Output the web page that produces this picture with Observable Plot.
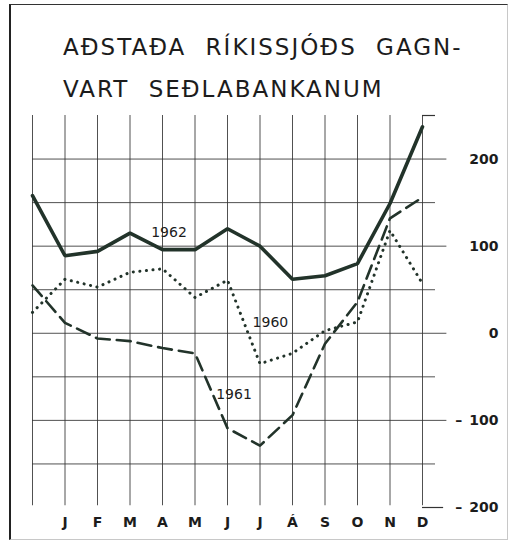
<!DOCTYPE html>
<html><head><meta charset="utf-8">
<script src="https://cdn.jsdelivr.net/npm/d3@7"></script>
<script src="https://cdn.jsdelivr.net/npm/@observablehq/plot@0.6"></script>
<style>
html,body{margin:0;padding:0;background:#fff;}
#wrap{position:relative;width:509px;height:547px;overflow:hidden;background:#fff;}
#frame{position:absolute;left:9px;top:4px;width:496px;height:534px;border-left:2px solid #222;border-top:1.5px solid #333;border-right:1px solid #c8c8c8;border-bottom:1px solid #c8c8c8;}
#title{position:absolute;left:63px;top:26px;font-family:"DejaVu Sans",sans-serif;font-size:23px;letter-spacing:2px;word-spacing:10px;line-height:42px;color:#1c1c1c;white-space:nowrap;}
#chart{position:absolute;left:0;top:110px;}
</style></head><body>
<div id="wrap"><div id="frame"></div><div id="title">AÐSTAÐA RÍKISSJÓÐS GAGN-<br>VART SEÐLABANKANUM</div><div id="chart"></div></div>
<script>
// month positions: 0 = end of previous year, 1..12 = J..D
const positions = [0,1,2,3,4,5,6,7,8,9,10,11,12];
const monthLabels = ["J","F","M","A","M","J","J","Á","S","O","N","D"];
const s1962 = [158, 89, 94, 115, 96, 96, 120, 100, 62, 66, 80, 149, 237];
const s1960 = [24, 62, 53, 70, 74, 41, 61, -35, -23, 3, 13, 118, 57];
const s1961 = [55, 12, -6, -9, -17, -23, -109, -129, -94, -12, 36, 132, 156];
const yTicks = [200, 100, 0, -100, -200];
const yTickLabels = ["200", "100", "0", "\u2013\u2002100", "\u2013\u2002200"];
const minorTicks = [150, 50, -50, -150];
const seriesLabels = [
  {text: "1962", x: 4.2, y: 116},
  {text: "1960", x: 7.32, y: 12},
  {text: "1961", x: 6.2, y: -70}
];

const ink = "#22332a";
const grid = "#333";

const chart = Plot.plot({
  width: 509,
  height: 437,
  marginTop: 0, marginRight: 0, marginBottom: 0, marginLeft: 0,
  style: {fontFamily: "DejaVu Sans, sans-serif", background: "transparent", overflow: "visible", color: "#1c1c1c"},
  x: {type: "linear", domain: [0, 12], range: [32, 422], axis: null},
  y: {domain: [-200, 250], range: [397, 5], axis: null},
  marks: [
    Plot.ruleX(positions, {x: d => d, y1: -198, y2: 250, stroke: grid, strokeWidth: 1, strokeOpacity: 0.85}),
    Plot.ruleY(yTicks.slice(0, 4), {y: d => d, x1: 0, x2: 12.75, stroke: grid, strokeWidth: 1, strokeOpacity: 0.85}),
    Plot.ruleY(minorTicks, {y: d => d, x1: 0, x2: 12.4, stroke: grid, strokeWidth: 1, strokeOpacity: 0.85}),
    Plot.ruleY([-200], {y: d => d, x1: 12, x2: 12.65, stroke: grid, strokeWidth: 1.2}),
    Plot.ruleY([250], {y: d => d, x1: 12, x2: 12.4, stroke: grid, strokeWidth: 1.2}),
    Plot.line(positions, {x: d => d, y: i => s1961[i], stroke: ink, strokeWidth: 2.6, strokeDasharray: "14 7"}),
    Plot.line(positions, {x: d => d, y: i => s1960[i], stroke: ink, strokeWidth: 3, strokeDasharray: "0.1 6.5", strokeLinecap: "round"}),
    Plot.line(positions, {x: d => d, y: i => s1962[i], stroke: ink, strokeWidth: 3.6, strokeLinejoin: "miter"}),
    Plot.text(seriesLabels, {x: "x", y: "y", text: "text", fontSize: 14, fill: "#1c1c1c", letterSpacing: 0.5}),
    Plot.text(monthLabels, {x: (d, i) => i + 1, y: -200, dy: 15, text: d => d, fontSize: 14, fontWeight: "bold", fill: "#1c1c1c"}),
    Plot.text(yTicks, {x: 12, y: d => d, dx: 76, text: (d, i) => yTickLabels[i], textAnchor: "end", fontSize: 14, fontWeight: "bold", fill: "#1c1c1c"})
  ]
});
document.getElementById("chart").appendChild(chart);
</script>
</body></html>
